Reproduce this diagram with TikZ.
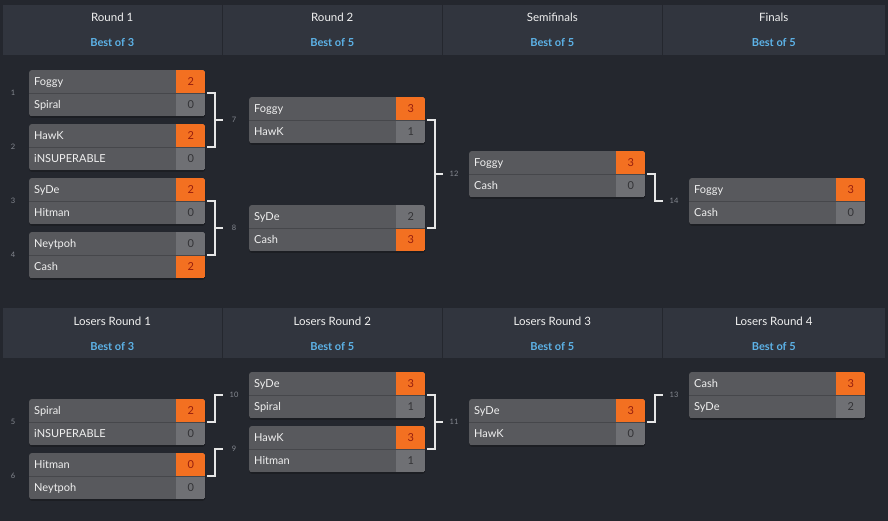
\documentclass[tikz,border=0pt]{standalone}
\usepackage{fontspec}
\setmainfont{Lato}
\definecolor{bgc}{HTML}{24272E}
\definecolor{headc}{HTML}{31353E}
\definecolor{namegray}{HTML}{58595D}
\definecolor{scoregray}{HTML}{6F7074}
\definecolor{orangec}{HTML}{F37021}
\definecolor{namewhite}{HTML}{F0F0F0}
\definecolor{darkscore}{HTML}{333336}
\definecolor{redscore}{HTML}{961E0E}
\definecolor{numgray}{HTML}{858991}
\definecolor{bluec}{HTML}{5DB3E8}
\definecolor{connc}{HTML}{E6E6E6}
\definecolor{sepc}{HTML}{46474B}
\definecolor{shadc}{HTML}{1C1E23}
\tikzset{
  mframe/.style={rectangle, minimum width=176pt, minimum height=46pt, inner sep=0pt, anchor=north west},
  pname/.style={anchor=base west, inner sep=0pt, text=namewhite, font=\fontsize{11}{13}\selectfont},
  pscore/.style={anchor=base, inner sep=0pt, font=\fontsize{11}{13}\selectfont},
  mnum/.style={inner sep=0pt, text=numgray, font=\fontsize{7.5}{9}\selectfont},
  headbox/.style={fill=headc, draw=none},
  htitle/.style={anchor=base, inner sep=0pt, text=namewhite, font=\fontsize{11.5}{13}\selectfont},
  hbest/.style={anchor=base, inner sep=0pt, text=bluec, font=\bfseries\fontsize{11}{13}\selectfont},
  conn/.style={draw=connc, line width=2pt},
  rowsep/.style={draw=sepc, line width=0.8pt},
}
% #1 name, #2 x, #3 y, #4 player1, #5 score1, #6 win1, #7 player2, #8 score2, #9 win2
\newcommand\bmatch[9]{%
  \ifnum#6=1 \def\bcA{orangec}\def\tcA{redscore}\else\def\bcA{scoregray}\def\tcA{darkscore}\fi
  \ifnum#9=1 \def\bcB{orangec}\def\tcB{redscore}\else\def\bcB{scoregray}\def\tcB{darkscore}\fi
  \node[mframe] (#1) at (#2,#3) {};
  \fill[shadc, rounded corners=3pt] ([yshift=-1.5pt]#1.north west) rectangle ([yshift=-1.5pt]#1.south east);
  \begin{scope}
    \clip[rounded corners=3pt] (#1.north west) rectangle (#1.south east);
    \fill[namegray] (#1.north west) rectangle (#1.south east);
    \fill[fill=\bcA] ([xshift=-29pt]#1.north east) rectangle (#1.east);
    \fill[fill=\bcB] ([xshift=-29pt]#1.east) rectangle (#1.south east);
    \draw[rowsep] (#1.west) -- (#1.east);
  \end{scope}
  \node[pname] (#1a) at ([xshift=5pt,yshift=-15.3pt]#1.north west) {#4};
  \node[pname] (#1b) at ([xshift=5pt,yshift=-38.3pt]#1.north west) {#7};
  \node[pscore, text=\tcA] (#1c) at ([xshift=-14.5pt,yshift=-15.3pt]#1.north east) {#5};
  \node[pscore, text=\tcB] (#1d) at ([xshift=-14.5pt,yshift=-38.3pt]#1.north east) {#8};
}
\begin{document}
\begin{tikzpicture}[x=1pt,y=-1pt]
\fill[bgc] (0,0) rectangle (888,521);
\useasboundingbox (0,0) rectangle (888,521);

% headers
\foreach \i/\xa/\xb/\ta/\tb in {1/3/221.5/Round 1/Best of 3, 2/223/441.5/Round 2/Best of 5, 3/443/661.5/Semifinals/Best of 5, 4/663/884.5/Finals/Best of 5}{
  \fill[headbox] (\xa,5) rectangle (\xb,55);
  \node[htitle] (ht\i) at ({(\xa+\xb)/2},22) {\ta};
  \node[hbest] (hb\i) at ({(\xa+\xb)/2},47) {\tb};
}
\foreach \i/\xa/\xb/\ta/\tb in {1/3/221.5/Losers Round 1/Best of 3, 2/223/441.5/Losers Round 2/Best of 5, 3/443/661.5/Losers Round 3/Best of 5, 4/663/884.5/Losers Round 4/Best of 5}{
  \fill[headbox] (\xa,308) rectangle (\xb,358);
  \node[htitle] (lt\i) at ({(\xa+\xb)/2},325) {\ta};
  \node[hbest] (lb\i) at ({(\xa+\xb)/2},350) {\tb};
}

% winners bracket
\bmatch{m1}{29}{70}{Foggy}{2}{1}{Spiral}{0}{0}
\bmatch{m2}{29}{124}{HawK}{2}{1}{iNSUPERABLE}{0}{0}
\bmatch{m3}{29}{178}{SyDe}{2}{1}{Hitman}{0}{0}
\bmatch{m4}{29}{232}{Neytpoh}{0}{0}{Cash}{2}{1}
\bmatch{m7}{249}{97}{Foggy}{3}{1}{HawK}{1}{0}
\bmatch{m8}{249}{205}{SyDe}{2}{0}{Cash}{3}{1}
\bmatch{m12}{469}{151}{Foggy}{3}{1}{Cash}{0}{0}
\bmatch{m14}{689}{178}{Foggy}{3}{1}{Cash}{0}{0}

% losers bracket
\bmatch{m5}{29}{399}{Spiral}{2}{1}{iNSUPERABLE}{0}{0}
\bmatch{m6}{29}{453}{Hitman}{0}{1}{Neytpoh}{0}{0}
\bmatch{m10}{249}{372}{SyDe}{3}{1}{Spiral}{1}{0}
\bmatch{m9}{249}{426}{HawK}{3}{1}{Hitman}{1}{0}
\bmatch{m11}{469}{399}{SyDe}{3}{1}{HawK}{0}{0}
\bmatch{m13}{689}{372}{Cash}{3}{1}{SyDe}{2}{0}

% match numbers
\foreach \m/\t in {m1/1,m2/2,m3/3,m4/4,m5/5,m6/6}{
  \node[mnum] (n\t) at ([xshift=-16pt]\m.west) {\t};
}
\foreach \m/\t in {m7/7,m8/8,m12/12,m14/14,m10/10,m9/9,m11/11,m13/13}{
  \node[mnum] (n\t) at ([xshift=-15pt]\m.west) {\t};
}

% connectors: brackets
\foreach \a/\b/\c in {m1/m2/m7, m3/m4/m8, m7/m8/m12, m10/m9/m11}{
  \draw[conn] ([xshift=2pt]\a.east) -- ([xshift=10pt]\a.east) |- ([xshift=2pt]\b.east);
  \draw[conn] ([xshift=-34pt]\c.west) -- ([xshift=-26.5pt]\c.west);
}
% connectors: single
\foreach \a/\c in {m12/m14, m5/m10, m6/m9, m11/m13}{
  \draw[conn] ([xshift=2pt]\a.east) -- ([xshift=10pt]\a.east) |- ([xshift=-26.5pt]\c.west);
}
\end{tikzpicture}
\end{document}
